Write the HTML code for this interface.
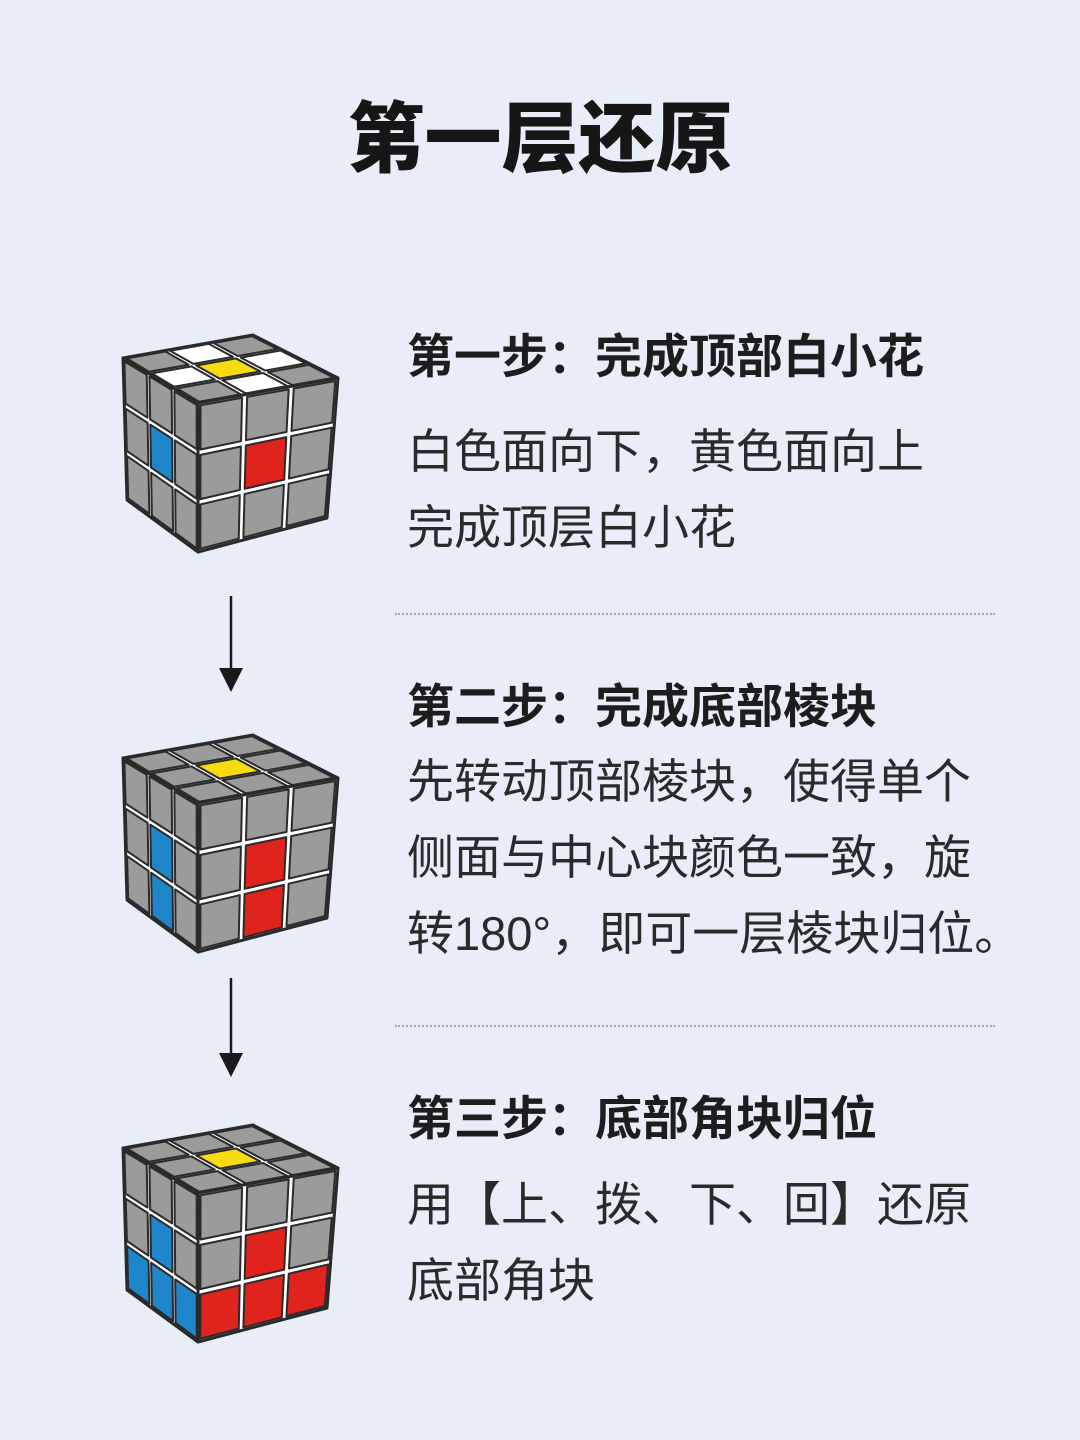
<!DOCTYPE html>
<html><head><meta charset="utf-8"><style>
body{margin:0;width:1080px;height:1440px;background:#e9edf7;position:relative;overflow:hidden;font-family:"Liberation Sans","Noto Sans CJK SC",sans-serif;color:#1d1d1d}
.t{position:absolute;white-space:nowrap}
h1{position:absolute;left:0;width:1080px;top:92px;margin:0;text-align:center;font-size:77px;line-height:96px;font-weight:900;color:#161616}
.h{font-size:47px;line-height:56px;font-weight:bold;left:407px}
.b{font-size:47px;left:407px;line-height:76px;color:#2a2a2a}
.dot{position:absolute;left:395px;width:600px;border-top:2px dotted #a9aab0}
</style></head><body>
<h1>第一层还原</h1>
<div class="t h" style="top:329px">第一步：完成顶部白小花</div>
<div class="t b" style="top:414px">白色面向下，黄色面向上<br>完成顶层白小花</div>
<div class="dot" style="top:613px"></div>
<div class="t h" style="top:679px">第二步：完成底部棱块</div>
<div class="t b" style="top:744px">先转动顶部棱块，使得单个<br>侧面与中心块颜色一致，旋<br>转180°，即可一层棱块归位。</div>
<div class="dot" style="top:1025px"></div>
<div class="t h" style="top:1091px">第三步：底部角块归位</div>
<div class="t b" style="top:1167px">用【上、拨、下、回】还原<br>底部角块</div>
<svg id="s" width="1080" height="1440" style="position:absolute;left:0;top:0">
<g stroke="#1a1a1a" stroke-width="2.5">
<line x1="231" y1="596" x2="231" y2="670"/><line x1="231" y1="978" x2="231" y2="1055"/></g>
<polygon points="219,668 243,668 231,692" fill="#1a1a1a"/>
<polygon points="219,1053 243,1053 231,1077" fill="#1a1a1a"/>
</svg>
<script>
var svg=document.getElementById('s'),NS='http://www.w3.org/2000/svg';
function L(a,b,t){return[a[0]+(b[0]-a[0])*t,a[1]+(b[1]-a[1])*t]}
function bl(p00,p10,p01,p11,u,v){return L(L(p00,p10,u),L(p01,p11,u),v)}
function poly(pts,fill,sw,st){var e=document.createElementNS(NS,'polygon');e.setAttribute('points',pts.map(p=>p.join(',')).join(' '));e.setAttribute('fill',fill);if(st){e.setAttribute('stroke',st);e.setAttribute('stroke-width',sw);e.setAttribute('stroke-linejoin','round')}svg.appendChild(e)}
var G='#9b9b9b',W='#ffffff',Y='#f7dd10',B='#1f86cc',R='#e0231c';
function face(p00,p10,p01,p11,cols){
 poly([p00,p10,p11,p01],'#ffffff',3,'#2a2a2a');
 var g=0.018;
 for(var r=0;r<3;r++)for(var c=0;c<3;c++){
  var u0=c/3+g,u1=(c+1)/3-g,v0=r/3+g,v1=(r+1)/3-g;
  poly([bl(p00,p10,p01,p11,u0,v0),bl(p00,p10,p01,p11,u1,v0),bl(p00,p10,p01,p11,u1,v1),bl(p00,p10,p01,p11,u0,v1)],cols[r][c],2,'#2b2b2b');
 }}
function cube(dy,top,left,right){
 var A=[123,358+dy],Bk=[253,335+dy],C=[338,378+dy],D=[198,403+dy],Dp=[198,552+dy],Ap=[127,500+dy],Cp=[327,518+dy];
 face(A,Bk,D,C,top);face(A,D,Ap,Dp,left);face(D,C,Dp,Cp,right);}
cube(0,[[G,W,G],[W,Y,W],[G,W,G]],[[G,G,G],[G,B,G],[G,G,G]],[[G,G,G],[G,R,G],[G,G,G]]);
cube(400,[[G,G,G],[G,Y,G],[G,G,G]],[[G,G,G],[G,B,G],[G,B,G]],[[G,G,G],[G,R,G],[G,R,G]]);
cube(790,[[G,G,G],[G,Y,G],[G,G,G]],[[G,G,G],[G,B,G],[B,B,B]],[[G,G,G],[G,R,G],[R,R,R]]);
</script>
</body></html>
